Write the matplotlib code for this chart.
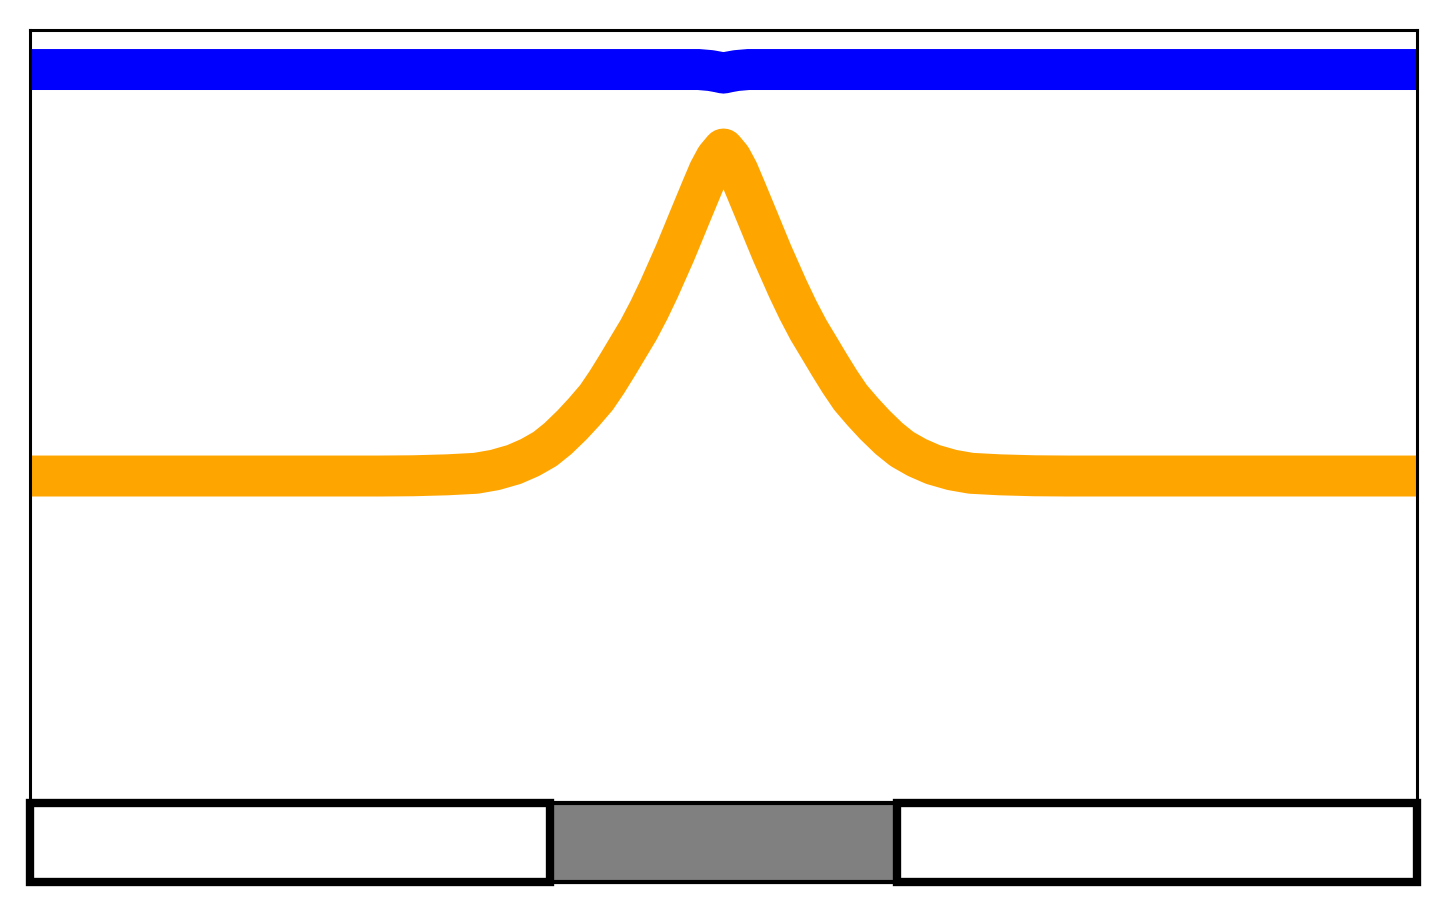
import matplotlib
matplotlib.use("Agg")
import matplotlib.pyplot as plt
from matplotlib.patches import Rectangle
import numpy as np

#orange profile (left half, mirrored later)
orange_x_half = [-2.0, -1.2222, -0.9913, -0.8961, -0.7980, -0.7143, -0.6595, -0.6046,
                 -0.5584, -0.5152, -0.4776, -0.4372, -0.4026, -0.3665, -0.3362, -0.3059,
                 -0.2756, -0.2453, -0.2150, -0.1861, -0.1631, -0.1400, -0.1198, -0.0996,
                 -0.0823, -0.0620, -0.0418, -0.0216, 0.0]
orange_y_half = [0.4765, 0.4765, 0.4765, 0.4768, 0.4779, 0.4797, 0.4836, 0.4900,
                 0.4982, 0.5082, 0.5205, 0.5364, 0.5516, 0.5687, 0.5869, 0.6068,
                 0.6274, 0.6479, 0.6714, 0.6960, 0.7171, 0.7383, 0.7582, 0.7782,
                 0.7952, 0.8151, 0.8345, 0.8498, 0.8603]

#blue line, flat with a small dip in the middle
blue_x_half = [-2.0, -0.072, -0.0375, -0.0144, 0.0]
blue_y_half = [0.9536, 0.9536, 0.9524, 0.9507, 0.9494]

#structure at the bottom: layer boundaries and fill colours
layer_edges = [-2.0, -0.5, 0.5, 2.0]
layer_colors = ["white", "gray", "white"]
layer_height = 0.093

#mirror the half profiles
orange_x = np.concatenate([orange_x_half, -np.array(orange_x_half[-2::-1])])
orange_y = np.concatenate([orange_y_half, orange_y_half[-2::-1]])
blue_x = np.concatenate([blue_x_half, -np.array(blue_x_half[-2::-1])])
blue_y = np.concatenate([blue_y_half, blue_y_half[-2::-1]])

fig = plt.figure(figsize=(14.46, 9.14), dpi=100)
ax = fig.add_axes([0.02109, 0.03501, 0.95851, 0.93217])

ax.plot(blue_x, blue_y, color="blue", lw=29.5)
ax.plot(orange_x, orange_y, color="orange", lw=29.5)

#draw the layers, the middle (gray) one sits under the white ones
for i in range(len(layer_colors)):
    x0 = layer_edges[i]
    w = layer_edges[i + 1] - layer_edges[i]
    if layer_colors[i] == "gray":
        r = Rectangle((x0, 0), w, layer_height, facecolor="gray",
                      edgecolor="black", lw=3, zorder=3, clip_on=False)
    else:
        r = Rectangle((x0, 0), w, layer_height, facecolor="white",
                      edgecolor="black", lw=6, zorder=4, clip_on=False)
    ax.add_patch(r)

ax.set_xlim(-2, 2)
ax.set_ylim(0, 1)
ax.set_xticks([])
ax.set_yticks([])
for s in ax.spines.values():
    s.set_linewidth(2.2)

fig.savefig("out.png", dpi=100)
